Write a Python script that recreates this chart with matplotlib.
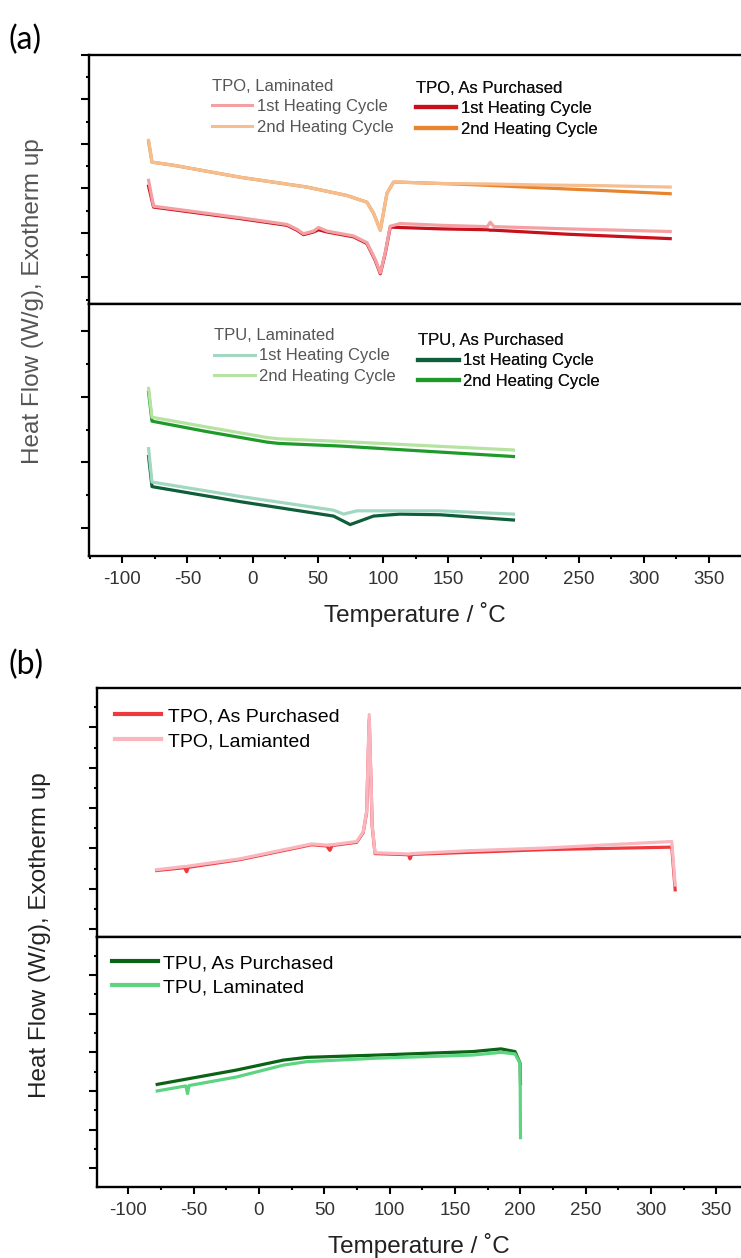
import numpy as np
import matplotlib
matplotlib.use('Agg')
import matplotlib.pyplot as plt
from matplotlib.ticker import MultipleLocator, NullFormatter, NullLocator

plt.rcParams['font.family'] = ['Liberation Sans', 'DejaVu Sans']
plt.rcParams['axes.unicode_minus'] = False

###############################################################################
# (a) TPO  -- heat flow, arbitrary units (1 = one major tick)
tpo_t2 = [-79.8, -77.2, -60.7, -9.5, 41.6, 72.3, 87.6, 92.7, 97.9, 103.0, 108.0, 113.2, 143.9, 180.0, 215.4, 270.0, 320.2]
tpo_lam2 = [3.08, 2.59, 2.52, 2.25, 2.03, 1.84, 1.69, 1.44, 1.06, 1.89, 2.14, 2.14, 2.11, 2.10, 2.08, 2.06, 2.03]
tpo_pur2 = [3.05, 2.59, 2.52, 2.25, 2.03, 1.84, 1.69, 1.44, 1.06, 1.89, 2.14, 2.14, 2.11, 2.07, 2.02, 1.95, 1.88]

tpo_t1 = [-79.8, -76.0, -60.7, -9.5, 26.3, 34.0, 39.0, 46.7, 50.5, 57.0, 77.4, 87.6, 94.0, 97.9,
          101.7, 105.5, 113.2, 143.9, 180.0, 182.2, 185.0, 241.0, 320.2]
tpo_lam1 = [2.18, 1.60, 1.54, 1.34, 1.19, 1.08, 0.98, 1.04, 1.12, 1.04, 0.93, 0.78, 0.40, 0.10,
            0.56, 1.15, 1.21, 1.17, 1.14, 1.24, 1.14, 1.09, 1.03]
tpo_pur1 = [2.05, 1.58, 1.52, 1.32, 1.17, 1.06, 0.96, 1.02, 1.07, 1.02, 0.91, 0.76, 0.38, 0.08,
            0.54, 1.13, 1.12, 1.09, 1.07, 1.06, 1.06, 0.97, 0.87]

# (a) TPU
tpu_t2 = [-79.8, -77.2, -35.0, 11.0, 20.0, 67.2, 200.0]
tpu_lam2 = [2.13, 1.69, 1.54, 1.38, 1.36, 1.32, 1.19]
tpu_pur2 = [2.07, 1.63, 1.47, 1.31, 1.29, 1.25, 1.09]

tpu_t1_lam = [-79.8, -77.2, -9.5, 62.0, 69.7, 80.0, 143.9, 200.0]
tpu_lam1 = [1.21, 0.70, 0.48, 0.27, 0.21, 0.26, 0.26, 0.21]
tpu_t1_pur = [-79.8, -77.2, -9.5, 62.0, 74.8, 92.7, 113.0, 143.9, 200.0]
tpu_pur1 = [1.09, 0.63, 0.40, 0.18, 0.05, 0.18, 0.21, 0.20, 0.12]

# (b) TPO
b_tpo_t = [-78.4, -57.0, -55.4, -54.0, -14.6, 40.3, 51.8, 54.3, 56.0, 74.8, 79.8, 82.4, 84.4, 86.7,
           88.8, 108.0, 114.5, 115.6, 117.0, 160.0, 220.3, 316.0, 318.6]
b_tpo_pur = [1.45, 1.52, 1.42, 1.53, 1.72, 2.09, 2.06, 1.95, 2.07, 2.15, 2.39, 2.89, 5.20, 2.54,
             1.87, 1.85, 1.84, 1.74, 1.85, 1.90, 1.97, 2.03, 0.97]
b_tpo_lam = [1.47, 1.55, 1.55, 1.56, 1.74, 2.11, 2.08, 2.09, 2.09, 2.17, 2.41, 2.91, 5.32, 2.56,
             1.89, 1.87, 1.86, 1.86, 1.87, 1.94, 2.01, 2.17, 1.09]

# (b) TPU
b_tpu_t_pur = [-77.9, -17.4, 18.8, 36.7, 91.0, 163.6, 185.3, 196.0, 199.9, 200.2]
b_tpu_pur = [2.17, 2.54, 2.80, 2.87, 2.93, 3.02, 3.09, 3.02, 2.72, 2.19]
b_tpu_t_lam = [-77.9, -56.0, -54.7, -53.5, -17.4, 18.8, 36.7, 91.0, 163.6, 185.3, 196.0, 199.9, 200.2]
b_tpu_lam = [2.00, 2.13, 1.93, 2.14, 2.36, 2.67, 2.76, 2.85, 2.93, 3.00, 2.96, 2.72, 0.79]

###############################################################################
W, H = 741, 1258
LW = 2.3
fig = plt.figure(figsize=(W / 100, H / 100), dpi=100)


def px_axes(x0, y0, y1):
    # pixel box -> figure fraction
    return fig.add_axes([x0 / W, 1 - y1 / H, 1 - x0 / W, (y1 - y0) / H])


def style(ax, ylim, bottom_axis):
    ax.set_ylim(*ylim)
    ax.yaxis.set_major_locator(MultipleLocator(1))
    ax.yaxis.set_minor_locator(MultipleLocator(0.5))
    ax.yaxis.set_major_formatter(NullFormatter())
    ax.spines['right'].set_visible(False)
    for s in ['left', 'top', 'bottom']:
        ax.spines[s].set_linewidth(1.7)
    ax.tick_params(axis='y', which='major', direction='out', length=6, width=1.5)
    ax.tick_params(axis='y', which='minor', direction='out', length=2.5, width=1.5)
    if bottom_axis:
        ax.xaxis.set_major_locator(MultipleLocator(50))
        ax.xaxis.set_minor_locator(MultipleLocator(25))
        ax.tick_params(axis='x', which='major', direction='out', length=5, width=1.5,
                       labelsize=13.5, labelcolor='#333333', pad=6)
        ax.tick_params(axis='x', which='minor', direction='out', length=2.5, width=1.5)
        ax.set_xlabel('Temperature / ˚C', fontsize=17.5, color='#222222', labelpad=10)
    else:
        ax.xaxis.set_major_locator(NullLocator())
        ax.xaxis.set_minor_locator(NullLocator())


###############################################################################
# panel (a)
a_top = px_axes(89, 55, 304)
a_bot = px_axes(89, 304, 556)
for ax in (a_top, a_bot):
    ax.set_xlim(-125.5, 374.5)

a_top.plot(tpo_t2, tpo_pur2, color='#E8832E', lw=LW)
a_top.plot(tpo_t2, tpo_lam2, color='#F6BD8E', lw=LW)
a_top.plot(tpo_t1, tpo_pur1, color='#C8101C', lw=LW)
a_top.plot(tpo_t1, tpo_lam1, color='#F4A0A3', lw=LW)
style(a_top, (-0.6, 5.0), False)

a_bot.plot(tpu_t2, tpu_pur2, color='#1E9A2A', lw=LW)
a_bot.plot(tpu_t2, tpu_lam2, color='#B6E2A2', lw=LW)
a_bot.plot(tpu_t1_pur, tpu_pur1, color='#0E5E3A', lw=LW)
a_bot.plot(tpu_t1_lam, tpu_lam1, color='#A2D8C2', lw=LW)
style(a_bot, (-0.43, 3.42), True)


def group_legend(ax, handles, labels, title, xy, color, lw):
    leg = ax.legend(handles, labels, title=title, loc='upper left', bbox_to_anchor=xy,
                    frameon=False, fontsize=12, title_fontsize=12, borderpad=0,
                    borderaxespad=0, handlelength=2.45, handletextpad=0.25,
                    labelspacing=0.33, alignment='left', labelcolor=color)
    leg.get_title().set_color(color)
    for ln in leg.get_lines():
        ln.set_linewidth(lw)
    ax.add_artist(leg)


lines_top = a_top.get_lines()
group_legend(a_top, [lines_top[3], lines_top[1]], ['1st Heating Cycle', '2nd Heating Cycle'],
             'TPO, Laminated', (0.188, 0.905), '#555555', 2.2)
group_legend(a_top, [lines_top[2], lines_top[0]], ['1st Heating Cycle', '2nd Heating Cycle'],
             'TPO, As Purchased', (0.501, 0.897), '#111111', 3.0)

lines_bot = a_bot.get_lines()
group_legend(a_bot, [lines_bot[3], lines_bot[1]], ['1st Heating Cycle', '2nd Heating Cycle'],
             'TPU, Laminated', (0.192, 0.905), '#555555', 2.2)
group_legend(a_bot, [lines_bot[2], lines_bot[0]], ['1st Heating Cycle', '2nd Heating Cycle'],
             'TPU, As Purchased', (0.505, 0.885), '#111111', 3.0)

fig.text(8 / W, 1 - 40 / H, '(a)', fontsize=23, family=['Lato', 'DejaVu Sans'], va='center')
fig.text(33 / W, 1 - 301 / H, 'Heat Flow (W/g), Exotherm up', rotation=90, fontsize=17.5,
         color='#555555', ha='center', va='center')

###############################################################################
# panel (b)
b_top = px_axes(97, 688, 937)
b_bot = px_axes(97, 937, 1187)
for ax in (b_top, b_bot):
    ax.set_xlim(-124.0, 369.0)

b_top.plot(b_tpo_t, b_tpo_pur, color='#EE3A3E', lw=LW, label='TPO, As Purchased')
b_top.plot(b_tpo_t, b_tpo_lam, color='#F9B6BE', lw=LW, label='TPO, Lamianted')
style(b_top, (-0.2, 5.98), False)
leg = b_top.legend(loc='upper left', bbox_to_anchor=(0.028, 0.922), frameon=False, fontsize=14,
                   borderpad=0, borderaxespad=0, handlelength=2.35, handletextpad=0.35,
                   labelspacing=0.38)
for ln in leg.get_lines():
    ln.set_linewidth(3.0)

b_bot.plot(b_tpu_t_pur, b_tpu_pur, color='#0B6416', lw=LW, label='TPU, As Purchased')
b_bot.plot(b_tpu_t_lam, b_tpu_lam, color='#5DD482', lw=LW, label='TPU, Laminated')
style(b_bot, (-0.49, 5.99), True)
leg = b_bot.legend(loc='upper left', bbox_to_anchor=(0.023, 0.93), frameon=False, fontsize=14,
                   borderpad=0, borderaxespad=0, handlelength=2.4, handletextpad=0.25,
                   labelspacing=0.33)
for ln in leg.get_lines():
    ln.set_linewidth(3.0)

fig.text(8 / W, 1 - 665 / H, '(b)', fontsize=23, family=['Lato', 'DejaVu Sans'], va='center')
fig.text(40 / W, 1 - 935 / H, 'Heat Flow (W/g), Exotherm up', rotation=90, fontsize=17.5,
         color='#222222', ha='center', va='center')

fig.savefig('out.png', dpi=100)
